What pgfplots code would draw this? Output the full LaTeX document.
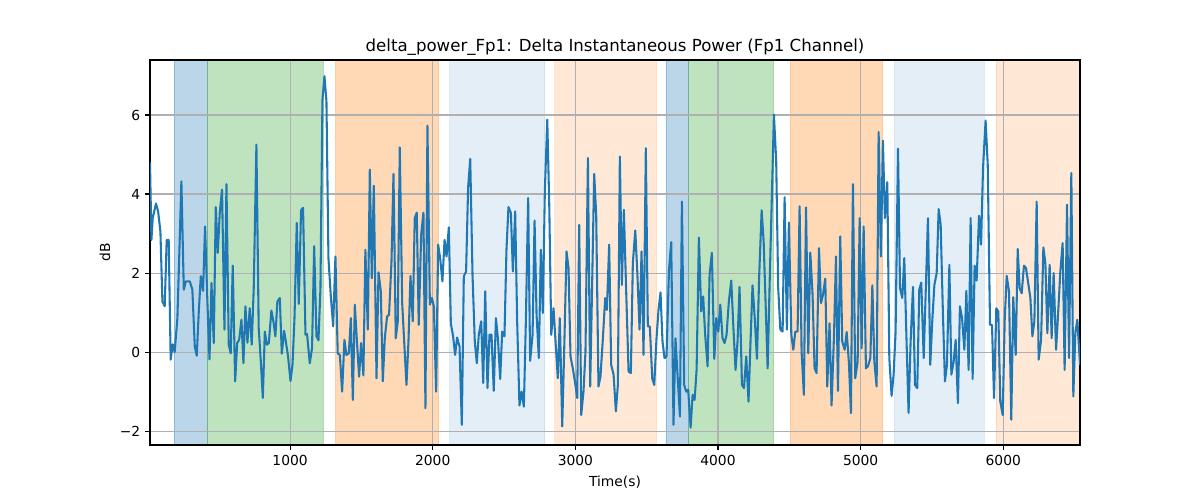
\documentclass[border=0pt]{standalone}
\usepackage{fontspec}
\setmainfont{DejaVu Sans}
\usepackage{pgfplots}
\pgfplotsset{compat=1.18}
\definecolor{C0}{HTML}{1F77B4}
\definecolor{C1}{HTML}{FF7F0E}
\definecolor{C2}{HTML}{2CA02C}
\definecolor{gridc}{HTML}{B0B0B0}
\pgfplotsset{span/.style={on layer=axis background, fill=#1, draw=#1, line width=0.6pt}}
\begin{document}
\begin{tikzpicture}
\begin{axis}[
  set layers,
  scale only axis,
  width=672.1pt, height=278.2pt,
  xmin=18, xmax=6538, ymin=-2.35, ymax=7.39,
  xtick={1000,2000,3000,4000,5000,6000},
  ytick={-2,0,2,4,6},
  yticklabels={−2,0,2,4,6},
  /pgf/number format/assume math mode=true,
  /pgf/number format/1000 sep={},
  tick pos=left,
  tick align=outside,
  major tick length=3.5pt,
  tick style={black, line width=0.8pt},
  axis line style={black, line width=0.8pt},
  grid=major,
  major grid style={gridc, line width=0.8pt},
  ticklabel style={font=\fontsize{10}{12}\selectfont},
  xticklabel style={yshift=-0.5pt},
  xlabel={Time(s)},
  ylabel={dB},
  label style={font=\fontsize{10}{12}\selectfont},
  xlabel style={yshift=-0.5pt},
  ylabel style={yshift=0pt},
  title={delta\_power\_Fp1: Delta Instantaneous Power (Fp1 Channel)},
  title style={font=\fontsize{12}{14}\selectfont, at={(0.5,1)}, anchor=south, inner sep=0pt, yshift=-3pt},
]
% shaded intervals
\addplot[span=C0, fill opacity=0.3, draw opacity=0.3] coordinates {(187,-2.35) (418,-2.35) (418,7.39) (187,7.39) (187,-2.35)};
\addplot[span=C2, fill opacity=0.3, draw opacity=0.3] coordinates {(418,-2.35) (1234,-2.35) (1234,7.39) (418,7.39) (418,-2.35)};
\addplot[span=C1, fill opacity=0.3, draw opacity=0.3] coordinates {(1320,-2.35) (2041,-2.35) (2041,7.39) (1320,7.39) (1320,-2.35)};
\addplot[span=C0, fill opacity=0.12, draw opacity=0.12] coordinates {(2120,-2.35) (2786,-2.35) (2786,7.39) (2120,7.39) (2120,-2.35)};
\addplot[span=C1, fill opacity=0.17, draw opacity=0.17] coordinates {(2856,-2.35) (3569,-2.35) (3569,7.39) (2856,7.39) (2856,-2.35)};
\addplot[span=C0, fill opacity=0.3, draw opacity=0.3] coordinates {(3635,-2.35) (3796,-2.35) (3796,7.39) (3635,7.39) (3635,-2.35)};
\addplot[span=C2, fill opacity=0.3, draw opacity=0.3] coordinates {(3796,-2.35) (4390,-2.35) (4390,7.39) (3796,7.39) (3796,-2.35)};
\addplot[span=C1, fill opacity=0.3, draw opacity=0.3] coordinates {(4507,-2.35) (5154,-2.35) (5154,7.39) (4507,7.39) (4507,-2.35)};
\addplot[span=C0, fill opacity=0.12, draw opacity=0.12] coordinates {(5236,-2.35) (5865,-2.35) (5865,7.39) (5236,7.39) (5236,-2.35)};
\addplot[span=C1, fill opacity=0.17, draw opacity=0.17] coordinates {(5949,-2.35) (6538,-2.35) (6538,7.39) (5949,7.39) (5949,-2.35)};
% signal
\addplot[C0, line width=1.5pt, line join=round, mark=none] table {
x y
18 4.8
28 2.84
37 3.39
60 3.76
75 3.56
91 3.05
105 1.28
121 1.16
135 2.84
149 2.84
163 -0.19
177 0.20
191 0.00
210 0.86
224 2.55
238 4.32
255 1.58
269 1.79
297 1.79
315 1.58
332 0.14
346 -0.09
360 1.03
374 1.92
390 1.55
404 3.18
421 1.20
435 -0.18
449 1.75
465 0.23
479 3.67
493 2.51
507 3.52
523 4.11
540 0.57
554 4.25
570 0.19
584 -0.03
598 2.19
615 -0.74
629 0.23
643 0.31
659 0.82
673 -0.28
687 1.16
701 0.24
717 1.11
731 0.19
745 1.58
764 5.25
780 0.61
795 -0.24
809 -1.16
823 0.52
837 0.19
851 0.23
869 1.05
883 0.78
897 0.40
911 1.28
928 1.37
942 -0.04
958 0.54
972 0.23
986 -0.11
1003 -0.73
1017 -0.32
1031 0.86
1047 3.27
1061 1.22
1077 3.59
1091 3.65
1108 0.44
1119 0.46
1138 -0.28
1154 0.10
1169 2.68
1185 0.40
1199 0.30
1213 1.62
1227 6.39
1241 6.98
1255 6.35
1269 2.38
1285 1.45
1302 0.65
1318 2.42
1334 -0.03
1349 -0.07
1365 -1.00
1381 0.31
1395 -0.07
1412 -0.03
1426 0.86
1440 -1.21
1454 1.20
1470 0.19
1484 -0.62
1498 0.23
1514 -0.59
1528 2.59
1545 0.57
1559 4.62
1573 1.87
1587 4.21
1606 -0.66
1620 2.02
1636 1.54
1650 -0.74
1664 0.35
1680 0.90
1694 0.95
1711 2.30
1725 4.51
1741 0.35
1755 0.78
1769 5.18
1786 1.24
1800 0.27
1816 -0.83
1830 0.27
1844 1.93
1860 0.78
1874 3.39
1888 3.53
1902 0.69
1919 2.97
1935 3.53
1949 -1.42
1963 5.73
1980 1.20
1994 1.37
2008 1.16
2024 -1.00
2038 2.72
2052 2.38
2068 1.79
2083 2.84
2097 2.42
2113 3.16
2127 0.73
2143 0.40
2157 -0.07
2171 0.37
2188 0.14
2204 -1.84
2218 1.92
2234 2.04
2248 4.15
2263 4.89
2279 1.96
2295 0.27
2309 -0.28
2323 0.44
2340 0.78
2354 -0.78
2368 1.54
2384 -0.91
2398 0.44
2412 0.44
2428 -0.98
2443 0.86
2457 0.35
2473 -0.68
2487 0.52
2503 0.40
2517 2.59
2531 3.67
2548 3.52
2562 2.04
2578 3.56
2592 0.78
2608 -1.35
2623 -1.00
2639 -1.38
2653 0.78
2669 3.90
2683 -0.22
2700 0.44
2714 3.33
2728 0.95
2744 -0.15
2758 2.59
2772 0.99
2786 4.07
2803 5.88
2817 3.73
2831 0.44
2847 1.11
2861 0.27
2877 -0.66
2891 0.86
2908 -1.88
2922 0.10
2938 2.55
2952 2.13
2966 -0.11
2982 -0.41
2997 -0.74
3013 -1.16
3027 3.22
3041 -1.59
3057 -1.00
3071 0.02
3088 4.91
3104 -0.87
3118 1.79
3132 4.51
3146 3.48
3162 -0.87
3176 -0.62
3193 0.35
3209 1.37
3221 1.07
3237 2.72
3251 -0.32
3268 -0.57
3284 -1.50
3298 -0.83
3312 4.95
3326 1.70
3340 3.60
3357 1.45
3373 -0.49
3389 -0.53
3403 2.25
3420 3.08
3434 2.04
3450 0.57
3464 2.55
3478 -0.07
3494 5.16
3508 0.65
3522 0.65
3539 -0.66
3553 -0.83
3569 0.35
3583 1.07
3597 1.51
3611 0.27
3625 -0.15
3639 -0.11
3656 2.04
3672 2.78
3688 -1.84
3702 0.35
3719 -0.74
3733 -1.63
3747 3.81
3763 -0.83
3777 -1.00
3791 -0.95
3808 -1.91
3822 -1.08
3836 -1.21
3850 -0.45
3866 2.90
3882 1.03
3896 1.41
3910 0.44
3927 -0.36
3941 1.96
3957 2.51
3974 -0.17
3988 0.86
4002 0.52
4016 1.20
4032 0.35
4046 0.23
4060 0.44
4076 1.28
4093 1.81
4107 0.69
4123 -0.45
4137 0.27
4151 1.65
4168 -0.83
4182 -0.91
4198 -0.11
4214 -1.25
4228 0.27
4242 1.69
4259 0.78
4273 -0.17
4289 1.96
4306 3.59
4320 2.80
4334 1.20
4348 -0.41
4364 2.04
4378 3.98
4392 6.01
4408 4.83
4422 1.62
4437 0.57
4453 0.52
4467 3.92
4483 0.57
4497 3.28
4514 0.44
4528 0.06
4542 0.52
4558 0.52
4572 3.69
4586 0.02
4602 -1.08
4617 3.66
4633 -0.03
4647 2.52
4663 1.45
4677 -0.41
4691 -0.53
4708 2.63
4722 1.24
4736 1.45
4752 1.86
4766 -0.87
4782 0.73
4796 -1.35
4813 0.40
4827 2.42
4841 -0.98
4857 2.93
4871 0.27
4888 0.06
4902 0.51
4918 -0.28
4932 -1.54
4946 4.25
4962 -0.66
4979 -0.24
4993 3.39
5007 0.10
5021 3.18
5037 -0.41
5051 -0.36
5068 -0.15
5082 1.69
5096 -0.24
5112 -0.87
5126 5.57
5142 2.42
5156 5.35
5170 3.39
5187 4.30
5201 -0.15
5217 -1.11
5231 -0.57
5245 0.52
5262 5.15
5276 1.62
5292 1.37
5306 2.38
5320 0.52
5336 -1.54
5350 0.24
5367 1.65
5381 -0.83
5397 -0.91
5411 1.58
5425 1.76
5442 -0.15
5472 3.39
5488 -0.32
5502 0.78
5517 1.70
5533 2.00
5547 3.62
5561 3.22
5577 0.95
5591 -0.74
5605 -0.32
5622 2.21
5636 -0.57
5652 -0.24
5666 0.31
5682 -1.29
5696 1.16
5711 0.86
5727 0.06
5741 1.55
5757 -0.45
5771 3.39
5785 -0.68
5799 2.19
5813 1.81
5830 3.45
5844 2.72
5858 4.66
5876 5.86
5891 4.74
5907 0.69
5921 0.69
5935 -1.16
5951 1.11
5965 1.03
5979 -1.25
5996 -1.59
6010 0.82
6024 1.93
6040 1.54
6056 -1.71
6070 1.39
6087 -0.07
6101 2.61
6115 1.62
6129 1.49
6145 2.19
6159 2.13
6173 1.79
6190 1.37
6204 0.40
6218 0.78
6234 3.81
6248 -0.19
6265 0.31
6281 2.65
6295 2.25
6309 0.48
6325 2.21
6339 0.35
6353 2.00
6370 0.06
6384 0.95
6400 2.04
6416 2.76
6430 -0.45
6447 3.73
6461 -0.15
6477 4.53
6491 -1.12
6505 0.48
6519 0.82
6538 -0.32
};
\end{axis}
\pgfresetboundingbox
\useasboundingbox (-108.4pt,-39.75pt) rectangle (758.8pt,321.6pt);
\end{tikzpicture}
\end{document}
